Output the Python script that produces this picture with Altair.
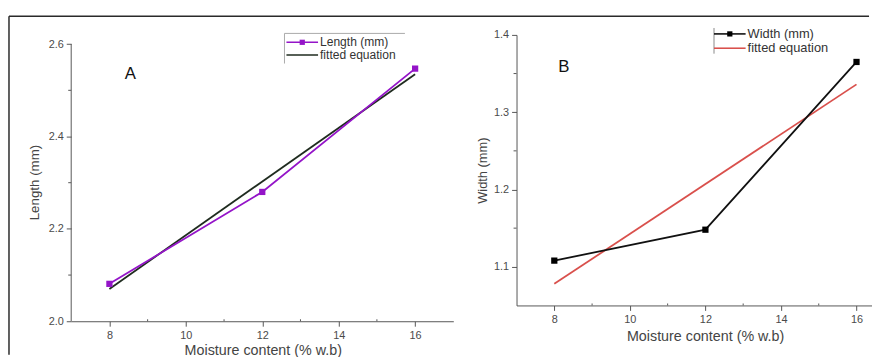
import altair as alt
import pandas as pd

# ---------------- data ----------------
moisture = [8, 12, 16]
length_mm = [2.081, 2.280, 2.547]
width_mm = [1.108, 1.148, 1.365]
fit_x = [8, 16]
length_fit = [2.070, 2.535]
width_fit = [1.078, 1.336]

x_ticks = [8, 10, 12, 14, 16]
x_minor = [9, 11, 13, 15]
a_y_ticks = [2.0, 2.2, 2.4, 2.6]
a_y_minor = [2.1, 2.3, 2.5]
b_y_ticks = [1.1, 1.2, 1.3, 1.4]
b_y_minor = [1.15, 1.25, 1.35]

legend_a = ["Length (mm)", "fitted equation"]
legend_b = ["Width (mm)", "fitted equation"]
panel_a_label = "A"
panel_b_label = "B"
x_title = "Moisture content (% w.b)"
a_y_title = "Length (mm)"
b_y_title = "Width (mm)"

FONT = "Liberation Sans"
PURPLE = "#9414c8"
FIT_DARK = "#1f2b1f"
RED = "#d9504c"
AXIS = "#555555"
FRAME = "#2a2a2a"
TXT = "#444444"

one = pd.DataFrame({"a": [0]})


def axis_common(**kw):
    return alt.Axis(
        grid=False, labelFont=FONT, labelColor="#4a4a4a", labelFontSize=11,
        tickColor=AXIS, domainColor=AXIS, tickSize=5, labelPadding=3,
        titleFont=FONT, titleColor=TXT, titleFontWeight="normal",
        titleBaseline="middle", titleAlign="center", **kw)


def legend_layers(labels, colors, base_x, base_y, dy, square_colors, fs):
    layers = []
    for i, (lab, col) in enumerate(zip(labels, colors)):
        yy = base_y + i * dy
        layers.append(alt.Chart(one).mark_rule(color=col, strokeWidth=1.6).encode(
            x=alt.value(base_x), x2=alt.value(base_x + 32), y=alt.value(yy)))
        if square_colors[i]:
            layers.append(alt.Chart(one).mark_square(color=square_colors[i], size=28, opacity=1).encode(
                x=alt.value(base_x + 16), y=alt.value(yy)))
        layers.append(alt.Chart(one).mark_text(
            text=lab, font=FONT, fontSize=fs, color="#333", align="left", baseline="middle").encode(
            x=alt.value(base_x + 34), y=alt.value(yy)))
    return layers


# ---------------- panel A ----------------
WA, HA = 387, 290
dfA = pd.DataFrame({"x": moisture, "y": length_mm})
dfAf = pd.DataFrame({"x": fit_x, "y": length_fit})

xA = alt.X("x:Q", scale=alt.Scale(domain=[7, 17], nice=False, zero=False),
           axis=axis_common(values=x_ticks, title=x_title, titleFontSize=14.5,
                            titleX=194, titleY=30))
yA = alt.Y("y:Q", scale=alt.Scale(domain=[2.0, 2.62], nice=False, zero=False),
           axis=axis_common(values=a_y_ticks, format=".1f", title=a_y_title, domain=False,
                            titleFontSize=13.5, titleX=-37, titleY=149))

a_line = alt.Chart(dfA).mark_line(color=PURPLE, strokeWidth=1.8).encode(x=xA, y=yA)
a_pts = alt.Chart(dfA).mark_square(color=PURPLE, size=40, opacity=1).encode(x="x:Q", y="y:Q")
a_fit = alt.Chart(dfAf).mark_line(color=FIT_DARK, strokeWidth=1.8).encode(x="x:Q", y="y:Q")
a_ydom = alt.Chart(pd.DataFrame({"x": [7], "y": [a_y_ticks[0]], "y2": [a_y_ticks[-1]]})).mark_rule(
    color=AXIS, strokeWidth=1).encode(x="x:Q", y="y:Q", y2="y2:Q")
a_yminor = alt.Chart(pd.DataFrame({"y": a_y_minor})).mark_rule(color=AXIS).encode(
    y="y:Q", x=alt.value(-3), x2=alt.value(0))
a_xminor = alt.Chart(pd.DataFrame({"x": x_minor})).mark_rule(color=AXIS).encode(
    x="x:Q", y=alt.value(HA - 2), y2=alt.value(HA))
a_label = alt.Chart(one).mark_text(text=panel_a_label, font=FONT, fontSize=17, color="#111").encode(
    x=alt.value(60), y=alt.value(40))
a_leg_top = alt.Chart(one).mark_rule(color="#aaaaaa", strokeWidth=1).encode(
    x=alt.value(216), x2=alt.value(338), y=alt.value(-1.5))
a_leg_left = alt.Chart(one).mark_rule(color="#aaaaaa", strokeWidth=1).encode(
    x=alt.value(216), y=alt.value(-1.5), y2=alt.value(29))
frame_top = alt.Chart(one).mark_rule(color=FRAME, strokeWidth=1.5).encode(
    x=alt.value(-63), x2=alt.value(808), y=alt.value(-19))
frame_left = alt.Chart(one).mark_rule(color=FRAME, strokeWidth=1.5).encode(
    x=alt.value(-63), y=alt.value(-19), y2=alt.value(324))

panelA = alt.layer(
    frame_top, frame_left, a_ydom, a_yminor, a_xminor, a_fit, a_line, a_pts, a_label,
    a_leg_top, a_leg_left,
    *legend_layers(legend_a, [PURPLE, FIT_DARK], 218, 7.5, 12.8, [PURPLE, None], 12.2),
).properties(width=WA, height=HA)

# ---------------- panel B ----------------
WB, HB = 360, 274
dfB = pd.DataFrame({"x": moisture, "y": width_mm})
dfBf = pd.DataFrame({"x": fit_x, "y": width_fit})

xB = alt.X("x:Q", scale=alt.Scale(domain=[7, 16.41], nice=False, zero=False),
           axis=axis_common(values=x_ticks, title=x_title, titleFontSize=14.5,
                            titleX=191, titleY=32))
yB = alt.Y("y:Q", scale=alt.Scale(domain=[1.05, 1.4], nice=False, zero=False),
           axis=axis_common(values=b_y_ticks, format=".1f", title=b_y_title,
                            titleFontSize=13, titleX=-34, titleY=137))

b_line = alt.Chart(dfB).mark_line(color="#111111", strokeWidth=1.8).encode(x=xB, y=yB)
b_pts = alt.Chart(dfB).mark_square(color="#000000", size=40, opacity=1).encode(x="x:Q", y="y:Q")
b_fit = alt.Chart(dfBf).mark_line(color=RED, strokeWidth=1.8).encode(x="x:Q", y="y:Q")
b_yminor = alt.Chart(pd.DataFrame({"y": b_y_minor})).mark_rule(color=AXIS).encode(
    y="y:Q", x=alt.value(-3), x2=alt.value(0))
b_xminor = alt.Chart(pd.DataFrame({"x": x_minor})).mark_rule(color=AXIS).encode(
    x="x:Q", y=alt.value(HB - 2), y2=alt.value(HB))
b_label = alt.Chart(one).mark_text(text=panel_b_label, font=FONT, fontSize=17, color="#111").encode(
    x=alt.value(48), y=alt.value(33))
b_leg_left = alt.Chart(one).mark_rule(color="#888888", strokeWidth=1).encode(
    x=alt.value(200), y=alt.value(-7), y2=alt.value(19))

panelB = alt.layer(
    b_yminor, b_xminor, b_fit, b_line, b_pts, b_label, b_leg_left,
    *legend_layers(legend_b, ["#111111", RED], 200, -1, 14.5, ["#000000", None], 13),
).properties(width=WB, height=HB)

chart = alt.hconcat(panelA, panelB, spacing=64, bounds="flush").configure_view(
    stroke=None
).properties(padding={"left": 0, "top": 5, "right": 0, "bottom": 0})

chart.save("out.html", embed_options={"renderer": "svg", "actions": False})
